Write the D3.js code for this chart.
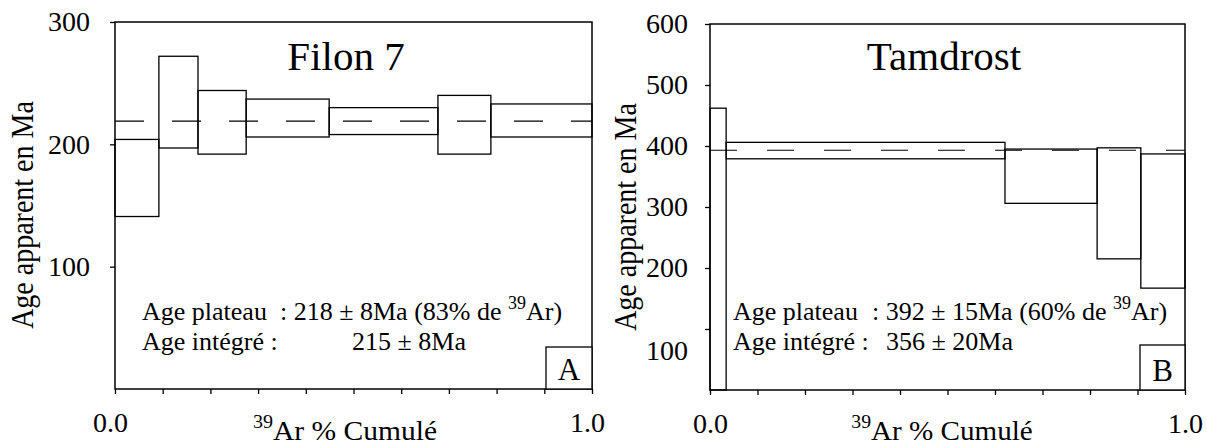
<!DOCTYPE html>
<html><head><meta charset="utf-8">
<script src="https://cdn.jsdelivr.net/npm/d3@7/dist/d3.min.js"></script>
<style>
body{margin:0;background:#fff}
svg, svg text{font-family:"Liberation Serif","Times New Roman",serif !important;fill:#000;white-space:pre}
</style>
</head><body>
<svg id="chart" width="1207" height="445" font-family="Liberation Serif"></svg>
<script>
// ---------- data ----------
const xTickValues = [0, 0.1, 0.2, 0.3, 0.4, 0.5, 0.6, 0.7, 0.8, 0.9, 1.0];
const xTickLabels = ["0.0", "", "", "", "", "", "", "", "", "", "1.0"];

// Panel A : Filon 7  (step boundaries on cumulative 39Ar, age low/high in Ma)
const filonSteps = [0, 0.092, 0.174, 0.275, 0.449, 0.677, 0.788, 1.0];
const filonLow   = [141, 197, 192, 206, 208, 192, 206];
const filonHigh  = [204, 272, 244, 237, 230, 240, 233];
const filonPlateau = 219;
const filonYTicks = [100, 200, 300];

// Panel B : Tamdrost
const tamSteps = [0, 0.034, 0.621, 0.815, 0.907, 1.0];
const tamLow   = [0, 379, 306, 215, 167];
const tamHigh  = [462, 406, 395, 397, 387];
const tamPlateau = 393;
const tamYTicks = [100, 200, 300, 400, 500, 600];

const FONT = '"Liberation Serif","Times New Roman",serif';
const svg = d3.select("#chart");

function panel(o) {
  const g = svg.append("g");
  const x = d3.scaleLinear().domain([0, 1]).range([o.left, o.right]);
  const y = d3.scaleLinear().domain([0, o.ymax]).range([o.bottom, o.top]);

  // step rectangles
  const idx = d3.range(o.low.length);
  g.selectAll("rect.step").data(idx).join("rect")
    .attr("class", "step")
    .attr("x", i => x(o.steps[i]))
    .attr("width", i => x(o.steps[i + 1]) - x(o.steps[i]))
    .attr("y", i => y(o.high[i]))
    .attr("height", i => y(o.low[i]) - y(o.high[i]))
    .attr("fill", "none").attr("stroke", "#000").attr("stroke-width", 1.3);

  // plateau dashed line
  g.append("line")
    .attr("x1", x(0)).attr("x2", x(1))
    .attr("y1", y(o.plateau)).attr("y2", y(o.plateau))
    .attr("stroke", "#000").attr("stroke-width", 1.1)
    .attr("stroke-dasharray", o.dash);

  // frame
  g.append("rect")
    .attr("x", o.left).attr("y", o.top)
    .attr("width", o.right - o.left).attr("height", o.bottom - o.top)
    .attr("fill", "none").attr("stroke", "#000").attr("stroke-width", 1.5);

  // x axis
  const xa = g.append("g").attr("transform", `translate(0,${o.bottom})`)
    .call(d3.axisBottom(x).tickValues(xTickValues).tickSize(5).tickPadding(18)
      .tickFormat((d, i) => xTickLabels[i]));
  xa.attr("font-family", FONT);
  xa.select(".domain").remove();
  xa.selectAll("line").attr("stroke", "#000").attr("stroke-width", 1.3);
  xa.selectAll("text").attr("font-size", 28).style("font-family", FONT)
    .attr("dx", o.xLabelDx);

  // y axis
  const ya = g.append("g").attr("transform", `translate(${o.left},0)`)
    .call(d3.axisLeft(y).tickValues(o.yTicks).tickSize(5).tickPadding(o.yPad));
  ya.attr("font-family", FONT);
  ya.select(".domain").remove();
  ya.selectAll("line").attr("stroke", "#000").attr("stroke-width", 1.3);
  ya.selectAll("text").attr("font-size", 28).style("font-family", FONT)
    .attr("dy", d => (o.labelShift && o.labelShift[d]) ? o.labelShift[d] : "0.32em");

  // y axis title (glyphs slightly stretched as in the reference)
  g.append("text")
    .attr("transform", `translate(${o.yTitleX},${o.yTitleY}) rotate(-90) scale(1,1.15)`)
    .attr("text-anchor", "middle").attr("font-size", 28).style("font-family", FONT)
    .text("Age apparent en Ma");

  // x axis title
  const xt = g.append("text")
    .attr("transform", `translate(${o.xTitleX},440) scale(${o.xTitleScale},1)`)
    .attr("text-anchor", "middle").attr("font-size", 28).style("font-family", FONT);
  xt.append("tspan").attr("font-size", 19).attr("dy", -12).text("39");
  xt.append("tspan").attr("dy", 12).text("Ar % Cumulé");

  // title
  g.append("text").attr("x", o.titleX).attr("y", 70).style("font-family", FONT)
    .attr("text-anchor", "middle").attr("font-size", 41).text(o.title);

  // annotation
  const t1 = g.append("text").attr("x", o.annX).attr("y", 320).attr("font-size", 26).style("font-family", FONT);
  t1.append("tspan").text("Age plateau");
  t1.append("tspan").attr("x", o.colonX).text(": " + o.plateauText + " (" + o.pct + " de ");
  t1.append("tspan").attr("font-size", 18).attr("dy", -11).text("39");
  t1.append("tspan").attr("dy", 11).text("Ar)");
  const t2 = g.append("text").attr("x", o.annX).attr("y", 350).attr("font-size", 26).style("font-family", FONT);
  t2.append("tspan").text("Age intégré :");
  t2.append("tspan").attr("x", o.intX).text(o.integText);

  // letter box
  g.append("rect")
    .attr("x", o.right - o.boxW).attr("y", o.bottom - o.boxH)
    .attr("width", o.boxW).attr("height", o.boxH)
    .attr("fill", "#fff").attr("stroke", "#000").attr("stroke-width", 1.3);
  g.append("text").attr("x", o.right - o.boxW / 2).attr("y", o.bottom - 9).style("font-family", FONT)
    .attr("text-anchor", "middle").attr("font-size", 31).text(o.letter);
}

panel({
  left: 115, right: 592, top: 22, bottom: 389, ymax: 300,
  steps: filonSteps, low: filonLow, high: filonHigh, plateau: filonPlateau,
  yTicks: filonYTicks, yPad: 20, dash: "29,28", xLabelDx: -5,
  yTitleX: 33, yTitleY: 215, xTitleX: 345, xTitleScale: 1.055, titleX: 346, title: "Filon 7",
  annX: 142, colonX: 280, plateauText: "218 ± 8Ma", pct: "83%",
  intX: 352, integText: "215 ± 8Ma",
  boxW: 46, boxH: 42, letter: "A"
});

panel({
  left: 710, right: 1185, top: 24, bottom: 390, ymax: 600,
  steps: tamSteps, low: tamLow, high: tamHigh, plateau: tamPlateau,
  yTicks: tamYTicks, yPad: 17, dash: "27,30", xLabelDx: 0,
  labelShift: {100: "1.1em"},
  yTitleX: 636, yTitleY: 217, xTitleX: 942, xTitleScale: 1.04, titleX: 944, title: "Tamdrost",
  annX: 733, colonX: 872, plateauText: "392 ± 15Ma", pct: "60%",
  intX: 886, integText: "356 ± 20Ma",
  boxW: 45, boxH: 45, letter: "B"
});
</script>
</body></html>
